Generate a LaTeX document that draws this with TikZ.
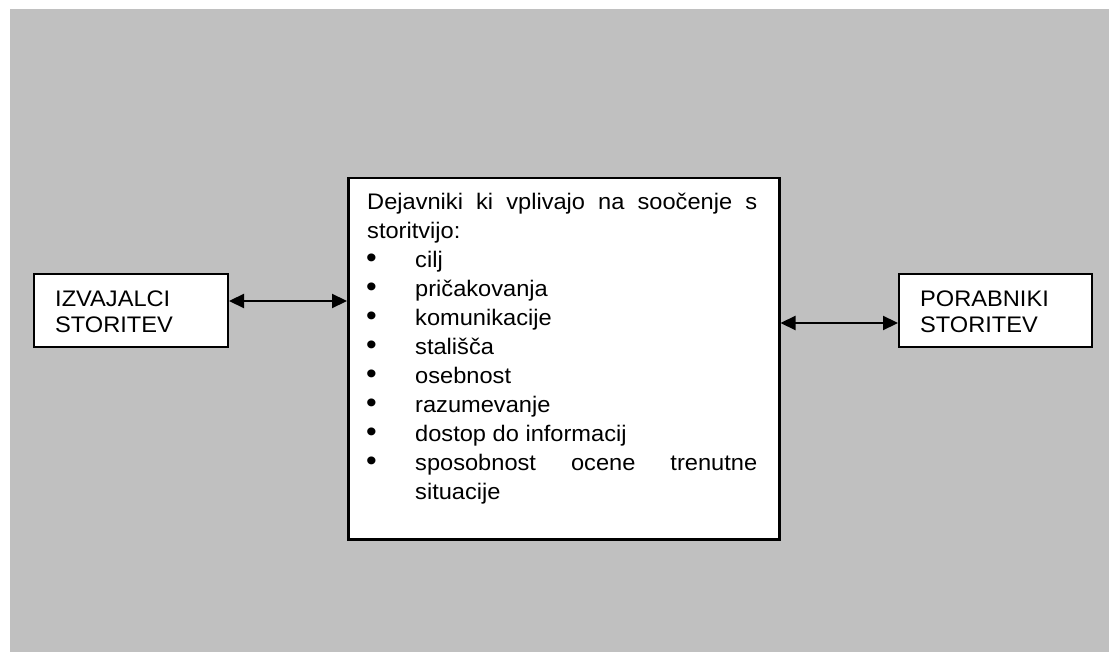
\documentclass[tikz,border=0pt]{standalone}
\usepackage{fontspec}
\setmainfont{Liberation Sans}[FakeStretch=1.05]
\usetikzlibrary{arrows.meta}
\definecolor{bg}{RGB}{192,192,192}
\begin{document}
\begin{tikzpicture}[x=1pt,y=-1pt,
  box/.style={draw=black,fill=white,line width=2pt,inner sep=0pt},
  lbl/.style={anchor=base west,inner sep=0pt,font=\fontsize{22.5}{26}\selectfont},
  bul/.style={anchor=base west,inner sep=0pt,font=\fontsize{29}{29}\selectfont},
  conn/.style={line width=2.2pt,{Triangle[length=15pt,width=14pt]}-{Triangle[length=15pt,width=14pt]}}]
\useasboundingbox (0,0) rectangle (1109,652);
\fill[white] (0,0) rectangle (1109,652);
\fill[bg] (10,9) rectangle (1109,652);
% boxes
\node[box,anchor=north west,minimum width=194pt,minimum height=73pt] (izv) at (33,273) {};
\node[box,anchor=north west,minimum width=193pt,minimum height=73pt] (por) at (898,273) {};
\node[box,anchor=north west,minimum width=431pt,minimum height=361pt,line width=2.5pt] (cen) at (347,177) {};
% connectors
\draw[conn] ([yshift=9.5pt]izv.east) -- ([yshift=9.5pt]izv.east -| cen.west);
\draw[conn] ([yshift=-12.5pt]por.west -| cen.east) -- ([yshift=-12.5pt]por.west);
% side texts
\node[lbl] (izv1) at (55,306.5) {IZVAJALCI};
\node[lbl] (izv2) at (55,332.5) {STORITEV};
\node[lbl] (por1) at (920,306.5) {PORABNIKI};
\node[lbl] (por2) at (920,332.5) {STORITEV};
% centre text
\node[lbl] (h1) at (367,210) {\makebox[390pt][s]{Dejavniki ki vplivajo na soočenje s}};
\node[lbl] (h2) at (367,238.9) {storitvijo:};
\foreach \n/\t in {3/cilj,4/pričakovanja,5/komunikacije,6/stališča,7/osebnost,8/razumevanje,9/dostop do informacij}{
  \node[bul] (b\n) at (366,{210+28.9*(\n-1)}) {•};
  \node[lbl] (t\n) at (415,{210+28.9*(\n-1)}) {\t};
}
\node[bul] (b10) at (366,{210+28.9*9}) {•};
\node[lbl] (t10) at (415,{210+28.9*9}) {\makebox[342pt][s]{sposobnost ocene trenutne}};
\node[lbl] (t11) at (415,{210+28.9*10}) {situacije};
\end{tikzpicture}
\end{document}
